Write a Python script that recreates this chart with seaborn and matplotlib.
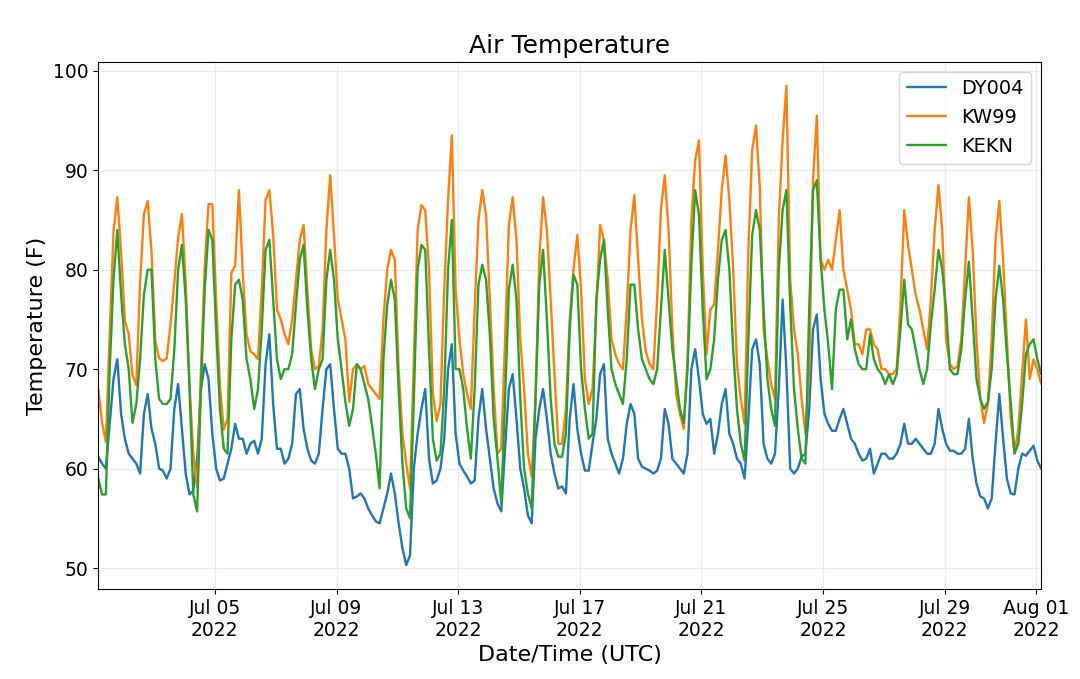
import pandas as pd
import matplotlib
matplotlib.use("Agg")
import matplotlib.pyplot as plt
import matplotlib.dates as mdates
import seaborn as sns

# 3-hourly readings, Jul 01 04:00 UTC to Aug 01 04:00 UTC (one row = one local day)
dy004 = [
    61.2, 60.5, 60.0, 64.5, 69.0, 71.0, 65.5, 63.0,
    61.5, 61.0, 60.5, 59.5, 65.5, 67.5, 64.0, 62.5,
    60.0, 59.8, 59.0, 60.0, 66.0, 68.5, 64.0, 59.5,
    57.4, 57.8, 61.0, 68.0, 70.5, 69.0, 63.5, 60.0,
    58.8, 59.0, 60.5, 62.0, 64.5, 63.0, 63.0, 61.5,
    62.5, 62.8, 61.5, 63.0, 70.5, 73.5, 66.5, 62.0,
    62.0, 60.5, 61.0, 62.5, 67.5, 68.0, 64.0, 62.0,
    60.8, 60.5, 61.5, 66.0, 70.0, 70.5, 66.0, 62.0,
    61.5, 61.5, 60.0, 57.0, 57.2, 57.5, 57.0, 56.0,
    55.3, 54.7, 54.5, 56.0, 57.5, 59.5, 57.5, 54.5,
    52.0, 50.3, 51.3, 60.0, 63.5, 66.0, 68.0, 61.0,
    58.5, 58.8, 60.0, 63.0, 70.0, 72.5, 63.5, 60.5,
    59.8, 59.2, 58.5, 58.8, 65.0, 68.0, 64.0, 61.0,
    58.0, 56.5, 55.7, 62.0, 68.0, 69.5, 65.0, 60.0,
    58.0, 55.3, 54.5, 63.0, 66.0, 68.0, 65.0, 61.5,
    59.5, 58.0, 58.2, 57.5, 65.0, 68.5, 64.0, 61.5,
    59.8, 59.8, 62.5, 65.0, 69.5, 70.5, 63.0, 61.5,
    60.5, 59.5, 61.0, 64.5, 66.5, 65.5, 61.0, 60.2,
    60.0, 59.8, 59.5, 59.8, 61.0, 66.0, 64.5, 61.0,
    60.5, 60.0, 59.5, 61.5, 70.0, 72.0, 69.0, 65.5,
    64.5, 65.0, 61.5, 63.5, 66.5, 68.0, 63.5, 62.5,
    61.0, 60.5, 59.0, 65.0, 72.0, 73.0, 70.5, 62.5,
    61.0, 60.5, 61.5, 68.0, 77.0, 70.0, 60.0, 59.5,
    60.0, 61.2, 61.5, 66.0, 74.0, 75.5, 69.0, 65.5,
    64.5, 63.8, 63.8, 65.0, 66.0, 64.5, 63.0, 62.5,
    61.5, 60.8, 61.0, 62.0, 59.5, 60.5, 61.5, 61.5,
    61.0, 61.0, 61.5, 62.5, 64.5, 62.5, 62.5, 63.0,
    62.5, 62.0, 61.5, 61.5, 62.5, 66.0, 64.0, 62.5,
    61.8, 61.8, 61.5, 61.5, 62.0, 65.0, 61.0, 58.5,
    57.2, 57.0, 56.0, 57.0, 62.5, 67.5, 63.0, 59.0,
    57.5, 57.4, 60.0, 61.5, 61.3, 61.8, 62.3, 60.8,
    60.0,
]

kw99 = [
    68.0, 64.6, 62.7, 73.5, 83.8, 87.3, 81.8, 74.9,
    73.5, 69.4, 68.4, 78.7, 85.6, 86.9, 81.8, 72.9,
    71.1, 70.8, 71.1, 74.5, 78.7, 83.2, 85.6, 78.7,
    68.4, 61.5, 58.1, 70.0, 80.4, 86.6, 86.6, 77.0,
    68.4, 63.9, 65.0, 79.7, 80.4, 88.0, 79.7, 73.5,
    71.8, 71.5, 71.0, 78.0, 87.0, 88.0, 83.5, 76.0,
    75.0, 73.5, 72.5, 75.0, 79.0, 83.0, 84.5, 78.0,
    72.0, 70.0, 70.3, 74.0, 84.0, 89.5, 83.5, 77.0,
    75.0, 73.0, 66.7, 70.0, 70.5, 70.0, 70.3, 68.5,
    68.0, 67.5, 67.0, 75.0, 80.0, 82.0, 81.0, 70.0,
    63.5, 60.5, 58.0, 71.0, 84.0, 86.5, 86.0, 80.0,
    67.5, 64.8, 66.5, 78.0, 87.0, 93.5, 78.0, 73.0,
    69.5, 67.5, 66.0, 76.0, 85.0, 88.0, 85.5, 77.0,
    68.0, 61.5, 62.0, 73.0, 84.5, 87.3, 83.0, 73.0,
    68.0, 61.5, 59.2, 67.0, 81.0, 87.3, 84.0, 77.0,
    69.5, 62.5, 62.5, 66.0, 75.0, 80.0, 83.5, 78.0,
    69.0, 66.5, 68.0, 76.0, 84.5, 83.0, 79.0, 73.0,
    71.5, 70.5, 70.0, 76.0, 84.0, 87.5, 81.0, 75.0,
    71.8, 70.5, 70.0, 77.0, 86.0, 89.5, 84.0, 74.0,
    67.5, 65.5, 64.0, 71.0, 85.0, 91.0, 93.0, 80.0,
    71.5, 76.0, 76.5, 82.0, 88.0, 91.5, 87.0, 80.0,
    70.5, 67.0, 64.5, 82.0, 92.0, 94.5, 88.3, 74.0,
    71.0, 68.5, 67.0, 85.0, 93.0, 98.5, 79.0, 74.0,
    71.5, 67.0, 63.5, 70.0, 89.0, 95.5, 81.0, 80.0,
    81.0, 80.0, 83.0, 86.0, 80.0, 78.0, 76.0, 72.5,
    72.5, 71.5, 74.0, 74.0, 72.5, 72.0, 70.0, 70.0,
    69.5, 69.5, 70.0, 76.5, 86.0, 82.5, 80.0, 77.5,
    76.0, 74.0, 72.0, 77.0, 84.0, 88.5, 84.0, 73.0,
    70.5, 70.0, 70.3, 73.0, 80.0, 87.3, 82.0, 73.0,
    67.0, 64.6, 66.5, 73.0, 83.0, 86.9, 81.0, 73.0,
    65.0, 61.5, 64.0, 69.5, 75.0, 69.0, 71.0, 70.0,
    68.5,
]

kekn = [
    59.0, 57.4, 57.4, 70.0, 79.0, 84.0, 77.5, 72.5,
    70.0, 64.6, 66.5, 71.0, 77.5, 80.0, 80.0, 71.0,
    67.0, 66.5, 66.5, 67.0, 72.0, 80.0, 82.5, 77.0,
    68.0, 57.4, 55.7, 68.0, 78.0, 84.0, 83.0, 74.0,
    66.0, 62.0, 61.5, 73.0, 78.5, 79.0, 77.0, 71.0,
    69.0, 66.0, 68.0, 74.0, 82.0, 83.0, 77.0, 71.0,
    69.0, 70.0, 70.0, 71.5, 76.5, 81.0, 82.5, 76.0,
    71.0, 68.0, 70.0, 71.0, 79.0, 82.0, 79.0, 73.0,
    70.0, 66.7, 64.3, 66.0, 70.5, 70.0, 68.5, 67.0,
    64.3, 61.5, 58.0, 71.0, 76.5, 79.0, 77.0, 68.0,
    60.5, 56.0, 55.0, 67.0, 80.0, 82.5, 82.0, 72.0,
    63.0, 60.8, 61.5, 68.0, 80.0, 85.0, 70.0, 70.0,
    68.0, 64.0, 61.0, 68.0, 78.5, 80.5, 79.0, 73.5,
    65.0, 61.0, 56.5, 67.0, 78.0, 80.5, 77.0, 67.0,
    60.0, 57.5, 56.0, 67.0, 78.5, 82.0, 75.0, 67.0,
    62.5, 61.2, 61.2, 63.5, 74.0, 79.5, 78.5, 70.0,
    66.0, 63.0, 63.5, 77.0, 81.0, 83.0, 76.0, 70.0,
    68.5, 67.5, 66.5, 71.0, 78.5, 78.5, 74.0, 71.0,
    70.0, 69.0, 68.5, 70.0, 76.0, 82.0, 77.0, 72.0,
    69.0, 66.0, 64.6, 70.0, 80.5, 88.0, 85.5, 76.0,
    69.0, 70.0, 73.0, 79.0, 83.0, 84.0, 80.0, 72.0,
    66.0, 62.5, 60.8, 73.0, 83.5, 86.0, 84.0, 76.0,
    69.0, 66.0, 64.3, 80.0, 86.0, 88.0, 76.5, 68.0,
    64.0, 61.0, 60.5, 76.0, 88.0, 89.0, 81.0, 76.0,
    72.5, 68.0, 76.0, 78.0, 78.0, 73.0, 75.0, 72.0,
    70.5, 70.0, 70.0, 73.5, 71.0, 70.0, 69.5, 68.5,
    69.5, 68.5, 69.5, 74.0, 79.0, 74.5, 74.0, 72.0,
    70.0, 68.5, 70.0, 74.5, 78.0, 82.0, 80.0, 76.0,
    70.0, 69.5, 69.5, 72.0, 77.0, 80.8, 75.0, 69.0,
    67.0, 66.0, 66.7, 70.0, 77.0, 80.4, 77.0, 71.5,
    66.7, 61.5, 62.5, 66.5, 71.5, 72.5, 73.0, 71.0,
    69.5,
]

stations = ["DY004", "KW99", "KEKN"]
times = pd.date_range("2022-07-01 04:00", "2022-08-01 04:00", freq="3h")

# long-form table for seaborn
df = pd.concat([
    pd.DataFrame({"time": times, "temp": vals, "station": name})
    for name, vals in zip(stations, [dy004, kw99, kekn])
], ignore_index=True)

sns.set_style("ticks", {"axes.grid": True, "grid.color": "#ebebeb",
                        "axes.edgecolor": "black", "text.color": "black",
                        "axes.labelcolor": "black", "xtick.color": "black",
                        "ytick.color": "black"})
plt.rcParams["font.family"] = ["DejaVu Sans"]

fig, ax = plt.subplots(figsize=(10.8, 6.79), dpi=100)
fig.subplots_adjust(left=0.091, right=0.964, top=0.909, bottom=0.1325)

sns.lineplot(data=df, x="time", y="temp", hue="station", hue_order=stations,
             palette=["#1f77b4", "#ff7f0e", "#2ca02c"], estimator=None,
             linewidth=1.7, ax=ax)

ax.set_xlim(times[0], times[-1])
ax.xaxis.set_major_locator(mdates.DayLocator(bymonthday=[1, 5, 9, 13, 17, 21, 25, 29]))
ax.xaxis.set_major_formatter(mdates.DateFormatter("%b %d\n%Y"))
ax.tick_params(labelsize=13.5, color="black", labelcolor="black")
for s in ax.spines.values():
    s.set_color("black")

ax.set_title("Air Temperature", fontsize=18, color="black")
ax.set_xlabel("Date/Time (UTC)", fontsize=16, color="black")
ax.set_ylabel("Temperature (F)", fontsize=16, color="black")
leg = ax.legend(loc="upper right", fontsize=14, title=None)
for t in leg.get_texts():
    t.set_color("black")

fig.savefig("out.png", dpi=100)
